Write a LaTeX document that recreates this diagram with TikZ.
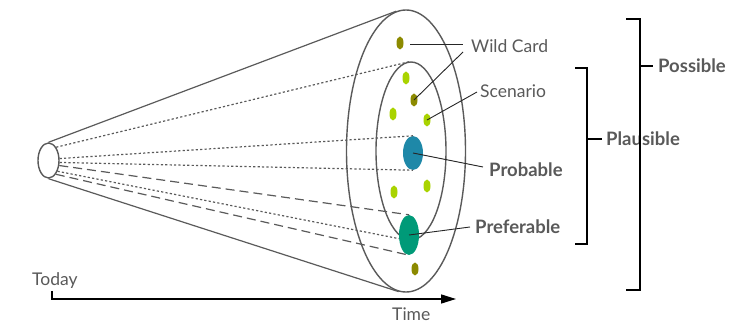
\documentclass[tikz,border=0pt]{standalone}
\usepackage{fontspec}
\setmainfont{Lato}
\usetikzlibrary{shapes.geometric,arrows.meta}
\definecolor{olivedot}{HTML}{8C8A00}
\definecolor{limedot}{HTML}{A9D300}
\definecolor{blueblob}{HTML}{1E88A8}
\definecolor{greenblob}{HTML}{009A78}
\definecolor{txtgray}{HTML}{595959}
\definecolor{linegray}{HTML}{5A5A5A}
\tikzset{
  ring/.style={ellipse, draw=linegray, line width=1.4pt, inner sep=0pt},
  blob/.style={ellipse, inner sep=0pt, draw=none},
  cone/.style={draw=linegray, line width=1.2pt},
  dotline/.style={draw=linegray, line width=1.2pt, dash pattern=on 2.2pt off 2.2pt},
  dashline/.style={draw=linegray, line width=1.2pt, dash pattern=on 9pt off 5pt},
  leader/.style={draw=black!85, line width=0.9pt},
  lbl/.style={font=\fontsize{17.5}{20}\selectfont, text=txtgray, inner sep=0pt, anchor=west},
  blbl/.style={lbl, font=\fontsize{18.5}{21}\selectfont\bfseries},
  bracket/.style={draw=black, line width=1.4pt},
}
\begin{document}
\begin{tikzpicture}[x=1pt,y=-1pt]
\useasboundingbox (0,0) rectangle (748,323);
% rings
\node[ring, minimum width=119pt, minimum height=282pt] (outer) at (406,151) {};
\node[ring, minimum width=70pt, minimum height=178pt] (inner) at (411,151) {};
\node[ring, minimum width=21pt, minimum height=35pt, fill=white] (small) at (48.5,160.5) {};
% blobs
\node[blob, fill=olivedot, minimum width=7pt, minimum height=13pt] (wc1) at (400,43) {};
\node[blob, fill=limedot, minimum width=7pt, minimum height=13pt] (s1) at (406,78) {};
\node[blob, fill=olivedot, minimum width=7pt, minimum height=13pt] (wc2) at (414,100) {};
\node[blob, fill=limedot, minimum width=7pt, minimum height=13pt] (s2) at (393,114) {};
\node[blob, fill=limedot, minimum width=7pt, minimum height=13pt] (s3) at (427,120) {};
\node[blob, fill=blueblob, minimum width=20pt, minimum height=34pt] (prob) at (413,153) {};
\node[blob, fill=limedot, minimum width=7pt, minimum height=13pt] (s4) at (427,186) {};
\node[blob, fill=limedot, minimum width=7pt, minimum height=13pt] (s5) at (394,192) {};
\node[blob, fill=greenblob, minimum width=20pt, minimum height=40pt] (pref) at (409,235) {};
\node[blob, fill=olivedot, minimum width=7pt, minimum height=13pt] (wc3) at (415,269) {};
% cone lines
\draw[cone] (small.north) -- (outer.94);
\draw[cone] (small.south) -- (outer.267);
\draw[dotline] (small.60) -- (inner.north);
\draw[dotline] (small.10) -- (prob.north);
\draw[dotline] (small.-10) -- (prob.south);
\draw[dashline] (small.-25) -- (pref.north);
\draw[dotline] (small.-50) -- (pref.200);
\draw[dashline] (small.-62) -- (pref.south);
% labels
\node[lbl] (wild) at (471,46) {Wild Card};
\node[lbl] (scen) at (480,91) {Scenario};
\node[blbl] (probl) at (489,170) {Probable};
\node[blbl] (prefl) at (475,227) {Preferable};
\node[blbl] (plaus) at (606,139) {Plausible};
\node[blbl] (poss) at (658,66) {Possible};
\node[lbl] (today) at (32,281) {Today};
\node[lbl] (time) at (392,314) {Time};
% leaders
\coordinate (wcA) at (410,44);
\coordinate (wcB) at (463,44);
\coordinate (wcC) at (463,52);
\coordinate (scA) at (477,92);
\coordinate (prA) at (483,167);
\coordinate (pfA) at (470,227);
\draw[leader] (wcA) -- (wcB);
\draw[leader] (wc2.center) -- (wcC);
\draw[leader] (s3.center) -- (scA);
\draw[leader] (prob.center) -- (prA);
\draw[leader] (pref.center) -- (pfA);
% brackets
\coordinate (p1) at (575,68);
\coordinate (p2) at (587,68);
\coordinate (p3) at (587,244);
\coordinate (p4) at (575,244);
\coordinate (pm) at (587,139);
\coordinate (pt) at (602,139);
\draw[bracket] (p1) -- (p2) -- (p3) -- (p4);
\draw[bracket] (pm) -- (pt);
\coordinate (q1) at (626,19);
\coordinate (q2) at (640,19);
\coordinate (q3) at (640,290);
\coordinate (q4) at (626,290);
\coordinate (qm) at (640,66);
\coordinate (qt) at (653,66);
\draw[bracket] (q1) -- (q2) -- (q3) -- (q4);
\draw[bracket] (qm) -- (qt);
% time axis
\coordinate (t0) at (52,291);
\coordinate (t1) at (52,299);
\coordinate (t2) at (456,299);
\draw[line width=1.5pt, -{Triangle[length=15pt,width=9pt]}] (t0) -- (t1) -- (t2);
\end{tikzpicture}
\end{document}
